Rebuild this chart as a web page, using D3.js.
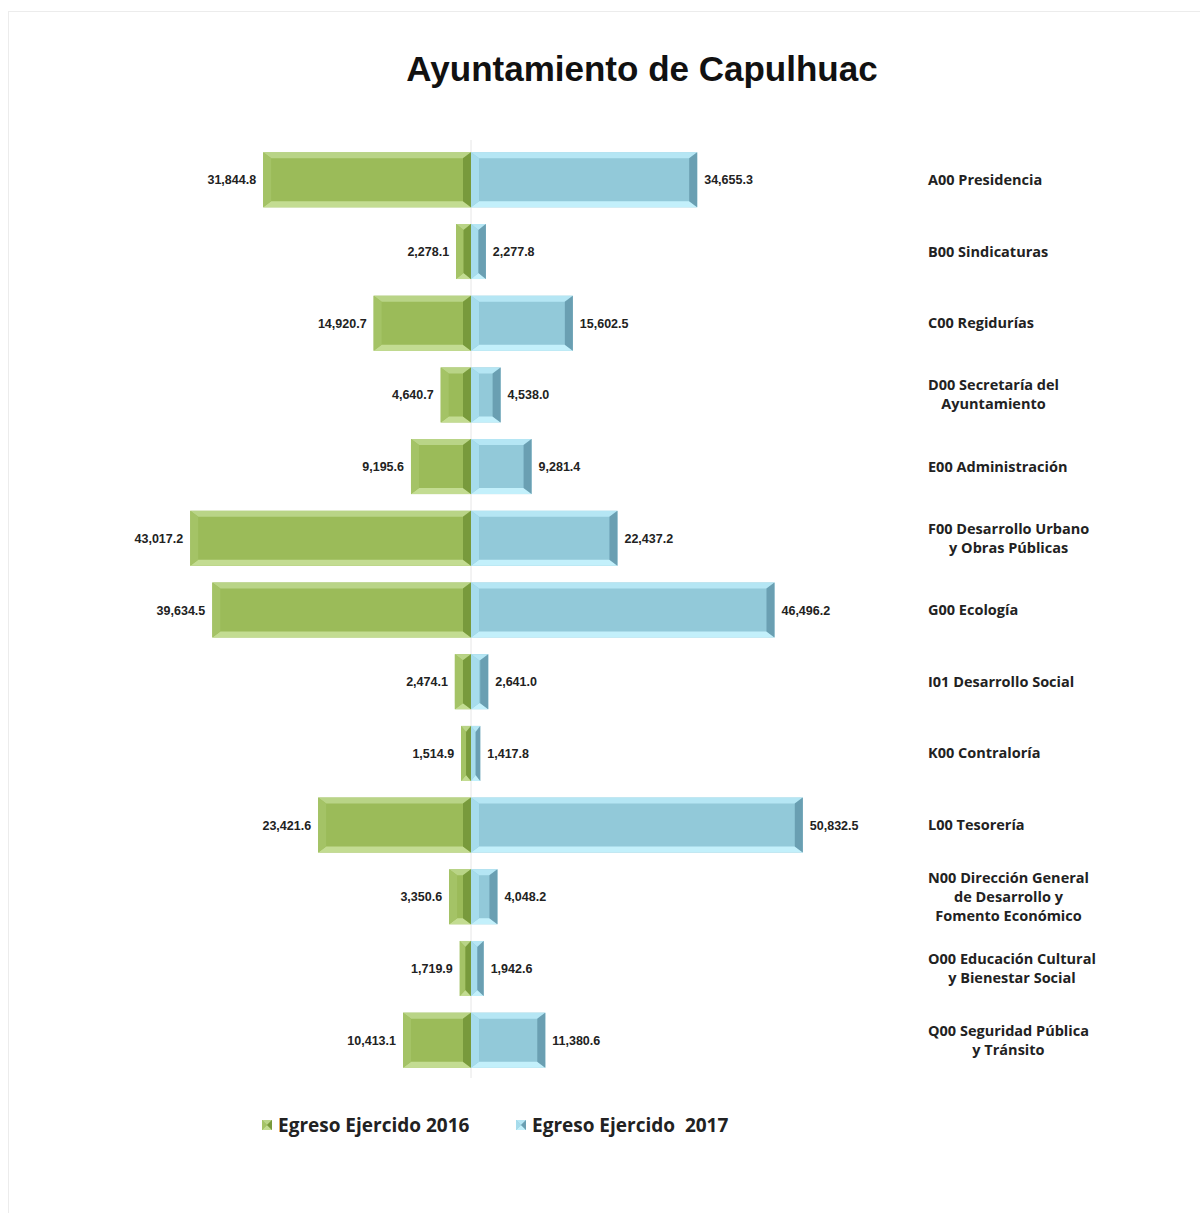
<!DOCTYPE html>
<html>
<head>
<meta charset="utf-8">
<script src="https://cdn.jsdelivr.net/npm/d3@7/dist/d3.min.js"></script>
<style>
  body { margin: 0; background: #fff; }
  svg { display: block; }
</style>
</head>
<body>
<svg id="svg" width="1200" height="1213"></svg>
<script>
    // datos del gráfico
    var categorias = [
        ['A00 Presidencia'],
        ['B00 Sindicaturas'],
        ['C00 Regidurías'],
        ['D00 Secretaría del', 'Ayuntamiento'],
        ['E00 Administración'],
        ['F00 Desarrollo Urbano', 'y Obras Públicas'],
        ['G00 Ecología'],
        ['I01 Desarrollo Social'],
        ['K00 Contraloría'],
        ['L00 Tesorería'],
        ['N00 Dirección General', 'de Desarrollo y', 'Fomento Económico'],
        ['O00 Educación Cultural', 'y Bienestar Social'],
        ['Q00 Seguridad Pública', 'y Tránsito']
    ];
    var egreso2016 = [31844.8, 2278.1, 14920.7, 4640.7, 9195.6, 43017.2, 39634.5, 2474.1, 1514.9, 23421.6, 3350.6, 1719.9, 10413.1];
    var egreso2017 = [34655.3, 2277.8, 15602.5, 4538.0, 9281.4, 22437.2, 46496.2, 2641.0, 1417.8, 50832.5, 4048.2, 1942.6, 11380.6];
    var series = ['Egreso Ejercido 2016', 'Egreso Ejercido  2017'];

    var svg = d3.select("#svg");
    var centro = 471;

    // marco
    svg.append("rect")
        .attr("x", 8.5).attr("y", 11.5)
        .attr("width", 1200).attr("height", 1210)
        .attr("fill", "none").attr("stroke", "#ececec");

    svg.append("text")
        .attr("x", 642).attr("y", 81)
        .attr("text-anchor", "middle")
        .style("font-family", "'Liberation Sans', Arial, sans-serif")
        .style("font-weight", "bold")
        .style("font-size", "35px")
        .attr("fill", "#111")
        .text("Ayuntamiento de Capulhuac");

    var claves = categorias.map(function (c, i) { return i; });
    var y = d3.scaleBand()
        .domain(claves)
        .range([144, 1076])
        .paddingInner(0.233)
        .paddingOuter(0.1165);
    var xIzq = d3.scaleLinear().domain([0, 55000]).range([centro, centro - 359]);
    var xDer = d3.scaleLinear().domain([0, 55000]).range([centro, centro + 359]);

    // linea central
    svg.append("line")
        .attr("x1", centro).attr("x2", centro)
        .attr("y1", 140).attr("y2", 1078)
        .attr("stroke", "#e6e6e6").attr("stroke-width", 1);

    var colores = [
        {main: "#9bbb59", top: "#b9d487", bottom: "#c3dc92", left: "#a4c366", right: "#789a3c"},
        {main: "#92c9d9", top: "#b5e6f4", bottom: "#c3f0fb", left: "#a6dcec", right: "#6a9fb2"}
    ];

    function bisel(g, x0, x1, y0, y1, c) {
        var b = Math.min(8, (x1 - x0) / 2, (y1 - y0) / 2);
        var bv = Math.min(6, (y1 - y0) / 2);
        g.append("rect").attr("x", x0).attr("y", y0)
            .attr("width", x1 - x0).attr("height", y1 - y0).attr("fill", c.main);
        var caras = [
            [[x0, y0], [x1, y0], [x1 - b, y0 + bv], [x0 + b, y0 + bv], c.top],
            [[x0, y1], [x1, y1], [x1 - b, y1 - bv], [x0 + b, y1 - bv], c.bottom],
            [[x0, y0], [x0 + b, y0 + bv], [x0 + b, y1 - bv], [x0, y1], c.left],
            [[x1, y0], [x1 - b, y0 + bv], [x1 - b, y1 - bv], [x1, y1], c.right]
        ];
        caras.forEach(function (p) {
            g.append("polygon")
                .attr("points", p.slice(0, 4).map(function (q) { return q.join(","); }).join(" "))
                .attr("fill", p[4]);
        });
    }

    var fmt = d3.format(",.1f");
    var barras = svg.append("g");
    claves.forEach(function (i) {
        var y0 = y(i), y1 = y(i) + y.bandwidth();
        bisel(barras, xIzq(egreso2016[i]), centro, y0, y1, colores[0]);
        bisel(barras, centro, xDer(egreso2017[i]), y0, y1, colores[1]);
    });

    var etiquetas = svg.append("g")
        .style("font-family", "'Liberation Sans', Arial, sans-serif")
        .style("font-weight", "bold")
        .style("font-size", "12.5px")
        .attr("fill", "#222");
    etiquetas.selectAll(".izq")
        .data(claves).enter().append("text")
        .attr("x", function (i) { return xIzq(egreso2016[i]) - 7; })
        .attr("y", function (i) { return y(i) + y.bandwidth() / 2 + 4.5; })
        .attr("text-anchor", "end")
        .text(function (i) { return fmt(egreso2016[i]); });
    etiquetas.selectAll(".der")
        .data(claves).enter().append("text")
        .attr("x", function (i) { return xDer(egreso2017[i]) + 7; })
        .attr("y", function (i) { return y(i) + y.bandwidth() / 2 + 4.5; })
        .text(function (i) { return fmt(egreso2017[i]); });

    // categorias a la derecha
    var cat = svg.append("g")
        .style("font-family", "'Open Sans', sans-serif")
        .style("font-weight", "bold")
        .style("font-size", "14.5px")
        .attr("fill", "#222");
    claves.forEach(function (i) {
        var lineas = categorias[i];
        var cy = y(i) + y.bandwidth() / 2;
        var g = cat.append("g");
        var ts = lineas.map(function (l, k) {
            return g.append("text")
                .attr("y", cy + (k - (lineas.length - 1) / 2) * 19 + 5)
                .attr("text-anchor", "middle")
                .text(l);
        });
        var ancho = d3.max(ts, function (t) { return t.node().getComputedTextLength(); });
        ts.forEach(function (t) { t.attr("x", 928 + ancho / 2); });
    });

    // leyenda
    var ley = svg.append("g")
        .style("font-family", "'Open Sans', sans-serif")
        .style("font-weight", "bold")
        .style("font-size", "19px")
        .attr("fill", "#222");
    var posLey = [262, 516];
    series.forEach(function (s, k) {
        bisel(ley, posLey[k], posLey[k] + 10, 1120, 1130, colores[k]);
        ley.append("text")
            .attr("x", posLey[k] + 16).attr("y", 1132)
            .style("white-space", "pre")
            .attr("xml:space", "preserve")
            .text(s);
    });
</script>
</body>
</html>
